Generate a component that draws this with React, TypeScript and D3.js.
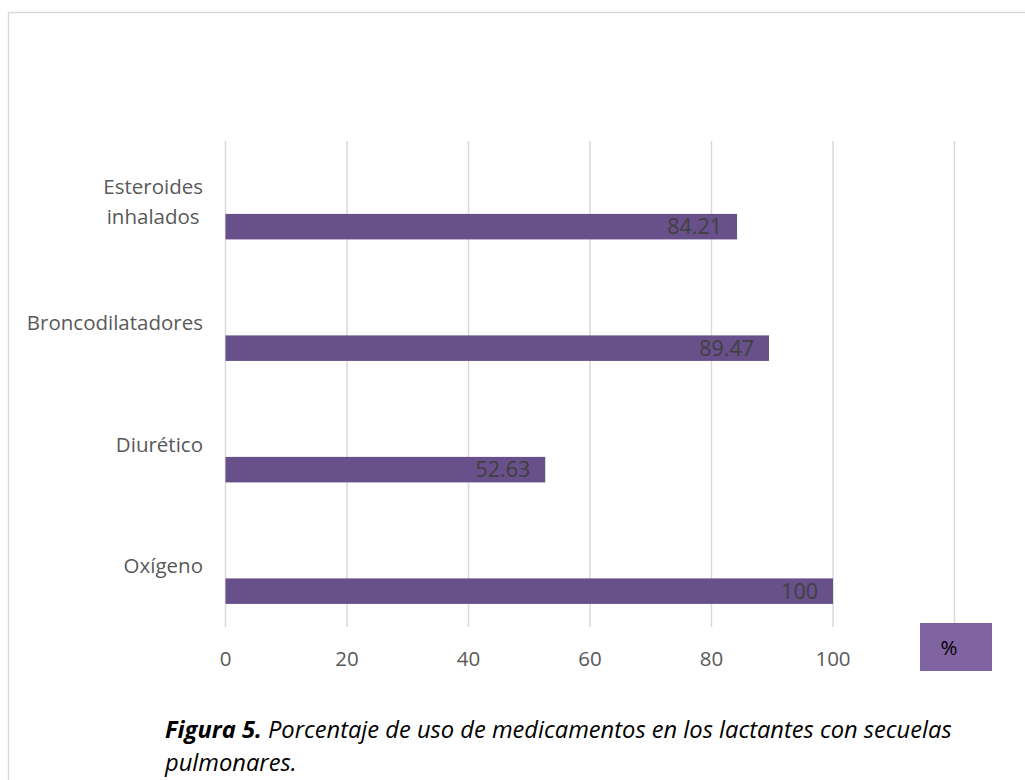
import React from "react";
import * as d3 from "d3";

const categories: string[][] = [
  ["Esteroides", "inhalados"],
  ["Broncodilatadores"],
  ["Diurético"],
  ["Oxígeno"],
];
const values: number[] = [84.21, 89.47, 52.63, 100];
const valueLabels: string[] = ["84.21", "89.47", "52.63", "100"];
const xTicks: number[] = [0, 20, 40, 60, 80, 100, 120];
const xTickLabels: number[] = [0, 20, 40, 60, 80, 100];
const legendLabel = "%";
const captionBold = "Figura 5.";
const captionLine1 = " Porcentaje de uso de medicamentos en los lactantes con secuelas";
const captionLine2 = "pulmonares.";

const W = 1025;
const H = 780;
const FONT = "'Open Sans', 'Noto Sans', sans-serif";

function measure(text: string, size: number): number {
  if (typeof document === "undefined") return text.length * size * 0.53;
  const c = document.createElement("canvas");
  const ctx = c.getContext("2d");
  if (!ctx) return text.length * size * 0.53;
  ctx.font = `${size}px 'Open Sans'`;
  return ctx.measureText(text).width;
}

export default function App() {
  const keys = categories.map((c) => c.join(" "));
  const x = d3.scaleLinear().domain([0, 120]).range([225.5, 954.5]);
  const y = d3.scaleBand<string>().domain(keys).range([141, 627]).padding(0);
  const bw = y.bandwidth();

  const labelRight = 203;
  const fs = 20.5;

  return (
    <svg
      width={W}
      height={H}
      style={{ position: "absolute", left: 0, top: 0, background: "#fff" }}
      fontFamily={FONT}
    >
      <rect x={8.5} y={12.5} width={W + 20} height={H + 20} fill="#fff" stroke="#d9d9d9" strokeWidth={1.5} />
      {xTicks.map((t) => (
        <line key={"g" + t} x1={x(t)} x2={x(t)} y1={141} y2={627} stroke="#d9d9d9" strokeWidth={1.5} />
      ))}
      {values.map((v, i) => (
        <rect
          key={"b" + i}
          x={x(0)}
          y={(y(keys[i]) as number) + bw * 0.6}
          width={x(v) - x(0)}
          height={bw * 0.21}
          fill="#68508a"
        />
      ))}
      {values.map((v, i) => (
        <text
          key={"v" + i}
          x={x(v) - 15}
          y={(y(keys[i]) as number) + bw * 0.705}
          dy="0.35em"
          textAnchor="end"
          fontSize={21.5}
          fill="#404040"
        >
          {valueLabels[i]}
        </text>
      ))}
      {categories.map((lines, i) => {
        const cy = (y(keys[i]) as number) + bw / 2;
        const maxW = Math.max(...lines.map((l) => measure(l, fs)));
        const cx = labelRight - maxW / 2;
        const lh = 30;
        return lines.map((l, j) => (
          <text
            key={"c" + i + "-" + j}
            x={cx}
            y={cy + (j - (lines.length - 1) / 2) * lh}
            dy="0.35em"
            textAnchor="middle"
            fontSize={fs}
            fill="#595959"
          >
            {l}
          </text>
        ));
      })}
      {xTickLabels.map((t) => (
        <text key={"t" + t} x={x(t)} y={659} dy="0.35em" textAnchor="middle" fontSize={fs} fill="#595959">
          {t}
        </text>
      ))}
      <rect x={920} y={623} width={72} height={48} fill="#8064a2" />
      <text x={949} y={648} dy="0.35em" textAnchor="middle" fontSize={fs} fill="#000">
        {legendLabel}
      </text>
      <text x={165} y={738} fontSize={23.7} fontStyle="italic" fill="#000">
        <tspan fontWeight="bold">{captionBold}</tspan>
        <tspan>{captionLine1}</tspan>
      </text>
      <text x={165} y={771} fontSize={23.7} fontStyle="italic" fill="#000">
        {captionLine2}
      </text>
    </svg>
  );
}
